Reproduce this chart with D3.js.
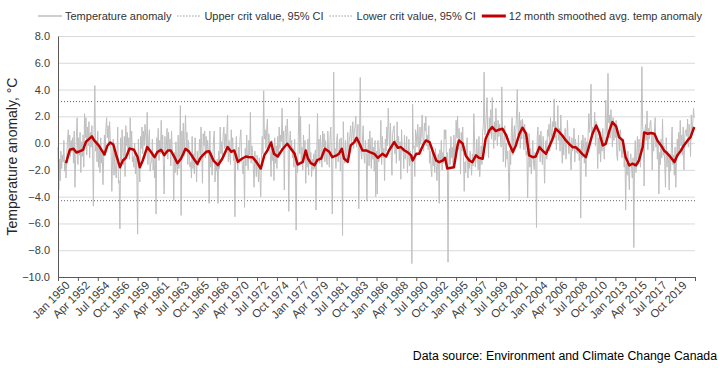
<!DOCTYPE html>
<html>
<head>
<meta charset="utf-8">
<script src="https://cdn.jsdelivr.net/npm/d3@7"></script>
<style>
  body { margin: 0; background: #fff; }
  svg { display: block; font-family: "Liberation Sans", Arial, sans-serif; }
</style>
</head>
<body>
<svg id="chart" width="720" height="368"></svg>
<script>
// monthly temperature anomaly, Jan 1950 - Dec 2021 (one row per year)
const startYear = 1950;
const anomaly = [
  -0.3,-3.5,-1.2,-2.8,-0.6,-1.9,-0.9,-1.4,0.2,-2.1,-1.3,-2.6,   // 1950
  -0.8,0.3,1.0,-0.4,0.6,-1.0,0.2,-0.6,0.4,-1.5,0.9,-3.3,
  -1.2,0.5,1.9,-1.6,0.4,-0.9,0.8,-2.2,0.1,-1.0,0.6,-1.8,
  2.2,0.4,1.9,-0.9,1.2,-0.2,1.6,-1.1,0.8,-0.3,1.3,-0.6,
  -4.7,0.8,4.3,-0.6,0.2,-1.4,0.9,-1.8,-0.3,-2.2,0.4,-1.5,
  -0.8,-3.1,-1.2,0.6,-0.9,1.1,1.9,0.4,1.3,-0.2,1.6,0.2,        // 1955
  -0.5,-3.6,-1.4,0.3,-2.4,-0.8,-1.9,-2.6,-1.1,1.2,-3.0,-2.8,
  -6.4,0.4,-1.3,1.0,-0.6,-1.6,0.5,-2.5,1.3,-0.2,0.8,-0.9,
  0.4,-1.2,1.9,-0.3,0.9,-1.4,-1.0,-1.8,0.0,-2.3,-1.1,-2.4,
  -6.8,0.3,-1.5,-2.9,0.5,-0.4,1.2,-0.8,0.9,-0.2,1.4,0.6,
  -0.4,2.3,-1.6,0.2,1.0,-2.1,-1.5,-1.4,0.3,-2.0,-1.2,-2.6,     // 1960
  -0.9,-5.3,0.4,-0.5,1.1,-1.3,0.2,-0.8,1.7,-0.4,0.6,-1.6,
  -3.8,0.5,-0.9,-0.2,1.1,-1.2,0.8,-0.5,0.3,-1.7,0.9,-0.6,
  -1.1,-4.3,-0.7,-2.2,0.1,-1.6,-2.4,0.6,-1.9,-0.8,2.8,-5.4,
  0.9,-0.7,1.5,-1.0,0.4,2.1,-0.3,0.8,-1.6,0.2,-0.9,-1.8,
  -1.4,-2.6,0.5,-1.9,-0.8,-2.3,0.4,-1.2,-2.9,-0.6,-1.7,-1.0,   // 1965
  0.3,-0.9,1.2,-0.4,-3.0,0.7,-0.2,0.9,-1.1,0.5,-0.8,0.2,
  -0.6,-4.5,0.9,-1.8,-0.7,-2.4,-1.2,0.3,0.9,-2.9,-1.5,-2.1,
  -1.2,-4.5,-0.6,-1.9,1.2,-0.8,0.1,-1.0,0.6,1.2,-0.4,0.7,
  -0.3,0.8,2.1,-1.4,0.2,-0.9,-1.6,1.0,-0.5,0.4,-1.3,-0.9,
  -5.5,-0.7,0.5,-1.2,-2.0,-0.3,-1.5,0.4,1.0,-0.8,-1.7,-2.3,    // 1970
  -1.3,-4.8,-0.4,-1.7,0.6,-1.1,-2.0,0.2,-0.9,2.3,-1.5,-0.2,
  -0.7,-1.9,-3.3,-0.6,-1.4,-2.5,-0.9,-1.8,-2.9,-1.1,-2.6,-4.0,
  -1.2,0.5,-0.8,3.9,0.3,1.0,-0.4,0.9,1.8,-0.6,0.7,-0.1,
  -0.9,-2.5,0.2,-1.3,-0.6,-2.8,0.4,-1.5,-0.2,-1.9,0.5,-1.1,
  1.2,-0.4,0.6,0.1,2.6,-0.3,0.9,-3.5,0.8,1.3,-0.2,1.8,         // 1975
  0.4,-5.1,-0.3,0.9,-0.6,0.2,-1.1,-0.4,-1.8,0.3,-1.6,-6.5,
  -1.3,-2.2,0.5,3.4,-0.8,2.0,-1.5,-0.3,-2.0,0.6,-1.1,0.2,
  -3.0,-0.9,-1.8,0.3,-2.4,1.4,-1.6,-0.7,-2.5,-1.2,-2.0,-0.8,
  -1.9,-0.5,-5.0,-0.8,2.2,-1.1,0.3,-1.5,0.6,-0.4,-1.8,0.9,
  -0.3,0.7,-1.4,0.2,-0.9,-1.6,0.9,-0.5,-1.8,0.4,1.2,-1.1,      // 1980
  -5.3,-0.6,5.3,-1.0,-0.4,-1.9,0.2,0.7,-1.4,-0.8,0.3,-2.1,
  0.4,-0.3,-6.9,1.6,-0.9,-1.5,0.2,-1.2,-0.6,0.8,-1.3,0.1,
  0.6,1.3,-0.2,0.7,1.6,-0.4,0.9,1.2,2.0,-0.3,0.8,1.4,
  -4.9,0.5,4.9,-0.7,-1.2,0.3,1.3,-0.9,-1.5,0.2,-0.6,-4.3,
  -0.8,0.3,-1.7,0.9,-0.5,-1.9,0.4,-1.2,-0.3,-2.1,0.2,-4.0,     // 1985
  -0.6,-3.8,0.2,-1.4,-0.9,-0.2,1.7,-1.6,0.5,-1.1,-0.4,-2.8,
  0.3,-0.6,1.2,-0.2,2.6,0.8,-0.4,1.5,-0.9,-2.4,0.7,1.1,
  1.3,-0.8,0.2,-1.5,1.6,-0.4,0.5,-1.3,0.1,-2.7,1.0,-0.6,
  -0.4,-1.9,0.6,-1.2,-0.8,0.5,-2.2,-1.0,0.3,-1.7,-0.6,-1.4,
  -9.0,2.9,-0.4,-0.2,-2.5,1.0,0.6,-0.3,1.4,0.2,-0.8,1.2,       // 1990
  -0.1,0.8,2.1,0.4,-0.6,1.5,0.9,2.0,-0.2,0.6,-0.5,1.3,
  -1.5,-0.6,-1.9,-2.5,-0.3,-1.7,-0.9,-2.2,-0.4,-1.6,-2.8,-1.0,
  -0.8,-4.5,-0.5,-1.4,0.2,-2.0,-0.7,-1.5,1.0,0.3,1.0,-1.3,
  -0.7,-8.9,-2.1,-0.4,-1.6,0.5,-1.1,-0.3,-1.8,0.6,-0.9,-1.2,
  1.7,0.4,2.0,-0.5,1.1,0.2,-2.3,0.8,-0.6,1.2,-1.0,-3.6,        // 1995
  -1.4,-2.2,-0.3,0.4,-2.6,-1.2,-1.9,-0.6,-1.5,-2.4,-0.8,-1.7,
  2.2,0.1,-1.8,-1.3,0.3,-0.9,-2.0,0.5,-2.5,-1.4,-0.2,-1.6,
  0.8,1.4,5.3,0.6,1.0,2.2,3.4,0.4,-1.1,1.9,0.7,2.5,
  0.3,3.4,0.9,-0.4,1.6,0.2,2.6,1.1,-0.2,1.7,0.5,1.4,
  0.6,-0.3,4.2,0.9,-1.4,0.2,1.3,-1.8,0.0,-1.2,-0.6,-2.2,       // 2000
  -4.3,-0.5,-1.6,0.8,1.9,-0.9,0.4,1.3,-0.2,0.9,2.2,4.0,
  0.6,1.0,2.3,-0.4,1.7,0.3,1.8,1.2,-0.5,1.4,0.2,-0.9,
  -0.6,-4.1,-1.3,0.7,-1.8,-0.4,-2.3,-0.9,0.2,-1.5,-2.0,-0.7,
  -1.1,-6.3,0.4,1.2,-0.8,0.6,-1.4,0.9,-0.3,-1.6,0.5,-0.9,
  -3.0,-0.4,0.2,-1.2,1.0,0.5,1.4,-0.6,1.9,0.8,0.3,1.6,         // 2005
  1.2,3.3,0.4,1.6,-0.5,0.9,2.8,0.2,1.1,-0.6,2.1,0.3,
  -1.5,0.6,-0.9,0.3,1.1,-1.2,-0.4,1.7,0.2,-0.8,0.5,-1.0,
  -2.0,0.4,-0.6,-0.1,1.1,-1.4,0.3,-0.7,-0.2,-0.8,0.6,-1.3,
  -0.4,-5.6,0.2,-1.1,0.6,-0.3,-1.5,0.4,-2.5,0.1,-0.9,0.5,
  2.2,0.8,1.5,4.4,0.3,1.2,0.6,1.0,2.3,-0.2,1.6,0.7,            // 2010
  -1.9,0.4,-0.8,0.9,-1.4,0.0,-0.6,1.1,-0.3,-1.2,0.5,3.2,
  1.0,0.6,5.2,1.5,2.1,0.4,2.5,1.2,-0.3,1.9,0.2,1.3,
  0.4,1.7,-0.9,-1.3,0.8,0.2,-0.6,1.0,-0.4,-1.1,-0.5,0.3,
  -1.8,-0.7,-5.0,-1.5,-2.4,-0.6,-2.1,-3.5,-1.2,-0.8,-1.9,-2.6,
  -1.1,-7.8,-1.4,0.2,-2.2,-0.9,0.5,-1.6,0.3,-0.4,-1.8,1.0,     // 2015
  5.7,1.2,0.6,-3.2,0.9,1.4,0.2,2.4,-0.5,1.1,0.3,1.5,
  1.7,0.4,-2.0,0.8,-0.6,0.9,1.9,-0.3,0.5,-1.2,0.1,-3.8,
  -0.7,-1.6,0.3,-1.1,1.8,-0.9,-0.2,-1.5,-3.3,0.4,-1.8,-0.6,
  -1.2,-3.5,-0.8,-2.1,-0.4,1.2,-1.6,-0.9,-2.4,-0.3,-3.3,-1.1,
  0.3,-1.0,0.8,-0.5,1.7,-0.2,0.6,-0.9,1.2,-2.0,0.4,0.9,        // 2020
  1.0,0.5,1.8,-0.3,1.4,0.8,-1.0,2.1,0.6,1.5,2.6,1.9
];

// 12 month smoothed average, [months since Jan 1950, value]
const smoothed = [
  [11,-1.5],[16,-0.5],[21,-0.42],[25,-0.7],[30,-0.6],[34,-0.5],[38,0.1],[42,0.3],[46,0.5],[49,0.2],
  [55,-0.15],[59,-0.5],[63,-0.85],[67,-0.2],[71,0.05],[75,-0.1],[79,-0.9],[84,-1.8],[88,-1.3],[92,-1.1],
  [97,-0.4],[103,-0.5],[108,-1.05],[111,-1.8],[115,-1.3],[121,-0.3],[126,-0.65],[131,-1.05],[135,-0.65],[140,-0.5],
  [144,-0.9],[149,-0.55],[153,-0.55],[158,-1.05],[162,-1.5],[167,-1.15],[173,-0.42],[178,-0.65],[184,-1.15],[189,-1.55],
  [194,-1.05],[201,-0.65],[205,-0.6],[211,-1.3],[217,-1.65],[223,-1.15],[230,-0.3],[235,-0.65],[239,-0.55],[244,-1.4],
  [250,-1.15],[255,-1.0],[260,-1.05],[264,-1.05],[269,-1.4],[275,-1.9],[280,-0.9],[284,-0.55],[289,0.05],[293,-0.8],
  [298,-1.0],[305,-0.42],[311,-0.05],[316,-0.42],[321,-0.8],[325,-1.6],[332,-1.4],[336,-0.55],[339,-1.15],[343,-1.5],
  [348,-1.65],[352,-1.25],[357,-1.15],[362,-0.42],[368,-0.65],[372,-1.05],[378,-0.92],[381,-0.8],[385,-0.42],[388,-1.15],
  [393,-1.4],[397,-0.17],[402,0.07],[405,0.4],[409,-0.05],[413,-0.55],[418,-0.55],[423,-0.67],[429,-0.8],[434,-1.1],
  [440,-0.8],[445,-1.0],[449,-0.55],[456,0.07],[461,-0.35],[465,-0.3],[470,-0.55],[474,-0.67],[479,-0.92],[481,-1.3],
  [486,-0.8],[490,-0.8],[495,-0.17],[499,0.2],[504,0.07],[508,-0.55],[513,-1.3],[517,-1.42],[522,-1.3],[525,-1.1],
  [528,-1.9],[533,-1.84],[537,-1.8],[542,-0.17],[544,0.2],[549,-0.05],[553,-0.92],[558,-1.3],[562,-1.42],[567,-0.92],
  [571,-1.1],[576,-1.17],[580,0.3],[585,0.95],[589,1.2],[594,0.9],[598,1.0],[603,1.07],[608,0.57],[612,-0.05],
  [617,-0.67],[621,-0.17],[626,0.7],[630,1.15],[635,0.7],[639,-0.92],[644,-1.05],[648,-1.0],[653,-0.3],[657,-0.55],
  [662,-0.8],[666,-0.3],[671,0.32],[675,1.07],[680,0.82],[684,0.57],[689,0.2],[693,-0.05],[698,-0.3],[702,-0.3],
  [707,-0.55],[711,-0.8],[716,-1.05],[720,-0.3],[725,0.7],[730,1.32],[734,0.82],[739,-0.17],[743,-0.05],[748,0.95],
  [752,1.57],[757,1.25],[761,0.45],[766,0.2],[770,-1.05],[775,-1.67],[779,-1.54],[784,-1.67],[788,-1.3],[793,-0.3],
  [795,0.8],[800,0.7],[804,0.75],[809,0.7],[813,0.2],[818,-0.17],[822,-0.55],[827,-0.8],[831,-1.05],[836,-1.42],
  [840,-0.92],[845,-0.55],[849,-0.17],[854,0.2],[858,0.45],[863,1.2]
];

const upperCrit = 3.1;
const lowerCrit = -4.3;
const yTicks = [8, 6, 4, 2, 0, -2, -4, -6, -8, -10];
const tickEveryMonths = 27;
const endMonth = 864; // Jan 2022
const legendLabels = ["Temperature anomaly", "Upper crit value, 95% CI", "Lower crit value, 95% CI", "12 month smoothed avg. temp anomaly"];

const width = 720, height = 368;
const margin = {top: 36, right: 25, bottom: 91, left: 58};

const svg = d3.select("#chart");
const monthDate = m => new Date(startYear, m, 1);

const x = d3.scaleTime()
    .domain([monthDate(0), monthDate(endMonth)])
    .range([margin.left, width - margin.right]);
const y = d3.scaleLinear()
    .domain([-10, 8])
    .range([height - margin.bottom, margin.top]);

// gridlines
svg.append("g")
    .selectAll("line")
    .data(yTicks.filter(d => d > -10))
    .enter()
    .append("line")
    .attr("x1", margin.left)
    .attr("x2", width - margin.right)
    .attr("y1", d => y(d) + 0.5)
    .attr("y2", d => y(d) + 0.5)
    .attr("stroke", "#d9d9d9")
    .attr("stroke-width", 1);

// critical value lines
const critLine = (v) => svg.append("line")
    .attr("x1", margin.left)
    .attr("x2", width - margin.right)
    .attr("y1", y(v))
    .attr("y2", y(v))
    .attr("stroke", "#404040")
    .attr("stroke-width", 0.8)
    .attr("stroke-dasharray", "1,2");
critLine(upperCrit);
critLine(lowerCrit);

// raw monthly line
const line = d3.line()
    .x(d => x(d.date))
    .y(d => y(d.value));

const monthly = anomaly.map((v, i) => ({date: monthDate(i), value: v}));
svg.append("path")
    .datum(monthly)
    .attr("fill", "none")
    .attr("stroke", "#bfbfbf")
    .attr("stroke-width", 1)
    .attr("stroke-linejoin", "round")
    .attr("d", line);

// smoothed line
const smooth = smoothed.map(d => ({date: monthDate(d[0]), value: d[1]}));
svg.append("path")
    .datum(smooth)
    .attr("fill", "none")
    .attr("stroke", "#c00000")
    .attr("stroke-width", 2.5)
    .attr("stroke-linejoin", "round")
    .attr("d", line);

// y axis
const yAxis = svg.append("g")
    .attr("transform", `translate(${margin.left},0)`)
    .call(d3.axisLeft(y).tickValues(yTicks).tickSize(0).tickPadding(8).tickFormat(d3.format(".1f")));
yAxis.select(".domain").attr("stroke", "#595959");
yAxis.selectAll("text")
    .attr("font-size", 11)
    .attr("fill", "#404040")
    .attr("font-family", "Liberation Sans, Arial, sans-serif");

// x axis
const xTicks = d3.range(0, endMonth + 1, tickEveryMonths).map(monthDate);
const fmt = d3.timeFormat("%b %Y");
const xAxis = svg.append("g")
    .attr("transform", `translate(0,${height - margin.bottom})`)
    .call(d3.axisBottom(x).tickValues(xTicks).tickSize(4).tickSizeOuter(0)
        .tickFormat((d, i) => i === xTicks.length - 1 ? "" : fmt(d)));
xAxis.select(".domain").attr("stroke", "#595959").attr("stroke-width", 1.2);
xAxis.selectAll(".tick line").attr("stroke", "#595959");
xAxis.selectAll("text")
    .attr("font-size", 11.5)
    .attr("fill", "#404040")
    .attr("font-family", "Liberation Sans, Arial, sans-serif")
    .attr("text-anchor", "end")
    .attr("transform", "translate(5,2) rotate(-45)")
    .attr("dy", "0.35em")
    .attr("y", 6)
    .attr("x", 0);

// y axis title
svg.append("text")
    .attr("transform", `translate(17,${(margin.top + height - margin.bottom) / 2}) rotate(-90)`)
    .attr("text-anchor", "middle")
    .attr("font-size", 14)
    .attr("fill", "#262626")
    .text("Temperature anomaly, °C");

// legend
const legend = svg.append("g").attr("transform", "translate(0,16)");
const sampleW = 24;
let lx = 38;
legendLabels.forEach((label, i) => {
    const s = legend.append("line")
        .attr("x1", lx).attr("x2", lx + sampleW)
        .attr("y1", 0).attr("y2", 0);
    if (i === 0) s.attr("stroke", "#bfbfbf").attr("stroke-width", 1.5);
    else if (i === 3) s.attr("stroke", "#c00000").attr("stroke-width", 3);
    else s.attr("stroke", "#404040").attr("stroke-width", 0.8).attr("stroke-dasharray", "1,2");
    const t = legend.append("text")
        .attr("x", lx + sampleW + 3)
        .attr("y", 0)
        .attr("dy", "0.35em")
        .attr("font-size", 11)
        .attr("fill", "#333")
        .text(label);
    lx += sampleW + 3 + t.node().getComputedTextLength() + 6;
});

// source note
svg.append("text")
    .attr("x", 717)
    .attr("y", 360)
    .attr("text-anchor", "end")
    .attr("font-size", 12.3)
    .attr("fill", "#000")
    .text("Data source: Environment and Climate Change Canada");
</script>
</body>
</html>
